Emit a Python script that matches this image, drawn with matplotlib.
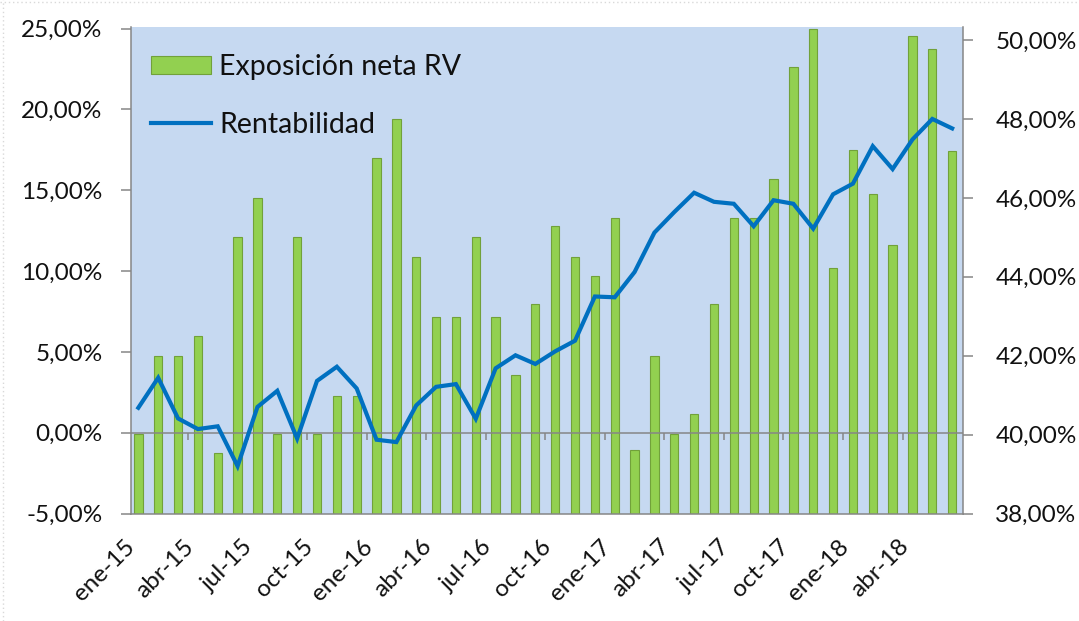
import matplotlib
matplotlib.use("Agg")
import matplotlib.pyplot as plt
from matplotlib.lines import Line2D
from matplotlib.ticker import FuncFormatter

# Months shown on the category axis
months = [
    "ene-15", "feb-15", "mar-15", "abr-15", "may-15", "jun-15",
    "jul-15", "ago-15", "sep-15", "oct-15", "nov-15", "dic-15",
    "ene-16", "feb-16", "mar-16", "abr-16", "may-16", "jun-16",
    "jul-16", "ago-16", "sep-16", "oct-16", "nov-16", "dic-16",
    "ene-17", "feb-17", "mar-17", "abr-17", "may-17", "jun-17",
    "jul-17", "ago-17", "sep-17", "oct-17", "nov-17", "dic-17",
    "ene-18", "feb-18", "mar-18", "abr-18", "may-18", "jun-18",
]

# Exposición neta RV (%), left axis
exposicion = [
    -0.10, 4.75, 4.75, 6.00, -1.25, 12.12,
    14.55, -0.10, 12.12, -0.10, 2.30, 2.30,
    17.00, 19.40, 10.87, 7.17, 7.17, 12.12,
    7.17, 3.60, 7.94, 12.79, 10.87, 9.68,
    13.27, -1.09, 4.75, -0.10, 1.15, 7.94,
    13.27, 13.27, 15.72, 22.60, 25.00, 10.18,
    17.50, 14.74, 11.64, 24.56, 23.77, 17.45,
]

# Rentabilidad (%), right axis
rentabilidad = [
    40.68, 41.44, 40.41, 40.14, 40.21, 39.20,
    40.70, 41.11, 39.90, 41.36, 41.72, 41.17,
    39.87, 39.81, 40.74, 41.21, 41.28, 40.40,
    41.68, 42.01, 41.79, 42.11, 42.38, 43.50,
    43.48, 44.12, 45.12, 45.64, 46.13, 45.90,
    45.85, 45.28, 45.94, 45.85, 45.22, 46.09,
    46.36, 47.31, 46.73, 47.48, 48.00, 47.76,
]

left_ticks = [-5, 0, 5, 10, 15, 20, 25]
right_ticks = [38, 40, 42, 44, 46, 48, 50]

plt.rcParams["font.family"] = ["Lato", "DejaVu Sans"]
plt.rcParams["text.color"] = "#111111"

BG = "#C6D9F1"
GREEN = "#92D050"
GREEN_EDGE = "#71A13A"
BLUE = "#0070C0"
GRAY = "#868686"


def pct(v, _pos):
    return f"{v:.2f}%".replace(".", ",")


fig = plt.figure(figsize=(10.79, 6.21), dpi=100)
ax1 = fig.add_axes([0.1214, 0.1731, 0.7708, 0.7834])
ax2 = ax1.twinx()

x = list(range(len(months)))

ax1.set_facecolor(BG)
ax1.bar(x, [v + 5 for v in exposicion], bottom=-5, width=0.42,
        color=GREEN, edgecolor=GREEN_EDGE, linewidth=0.8, zorder=2,
        label="Exposición neta RV")
ax1.axhline(0, color=GRAY, linewidth=1.1, zorder=3)

# small ticks on the zero line, between quarters
bounds = [i - 0.5 for i in range(3, len(months), 3)]
ax1.vlines(bounds, -0.45, 0, color=GRAY, linewidth=1.1, zorder=3)

ax2.plot(x, rentabilidad, color=BLUE, linewidth=3.0, solid_joinstyle="miter",
         label="Rentabilidad", zorder=4)

ax1.set_xlim(-0.37, 41.53)
ax1.set_ylim(-5, 25.1)
ax2.set_ylim(38, 50.33)

ax1.set_yticks(left_ticks)
ax2.set_yticks(right_ticks)
ax1.yaxis.set_major_formatter(FuncFormatter(pct))
ax2.yaxis.set_major_formatter(FuncFormatter(pct))

ax1.set_xticks(x[::3])
ax1.set_xticklabels(months[::3], rotation=45, ha="right", fontsize=17.5,
                    color="#111111")
ax1.tick_params(axis="x", length=0, pad=16)
ax1.tick_params(axis="y", length=7.5, width=1.1, color=GRAY, pad=13,
                labelsize=17.5, labelcolor="#111111")
ax2.tick_params(axis="y", length=7.5, width=1.1, color=GRAY, pad=16,
                labelsize=17.5, labelcolor="#111111")

for ax in (ax1, ax2):
    ax.spines["top"].set_visible(False)
    for side in ("left", "right", "bottom"):
        ax.spines[side].set_color(GRAY)
        ax.spines[side].set_linewidth(1.1)
ax1.spines["right"].set_visible(False)
ax2.spines["left"].set_visible(False)
ax2.spines["bottom"].set_visible(False)

handles = [ax1.containers[0], ax2.get_lines()[0]]
labels = ["Exposición neta RV", "Rentabilidad"]
ax2.legend(handles, labels, loc="upper left", bbox_to_anchor=(0.0, 0.985),
           frameon=False, fontsize=20.5, handlelength=2.1, handleheight=0.6,
           handletextpad=0.3, labelspacing=1.1, borderpad=0.2)

# faint dotted frame on the top and left edges
fig.add_artist(Line2D([0.003, 0.003], [0, 1], transform=fig.transFigure,
                      color="#d9d9d9", linestyle=(0, (1, 2)), linewidth=1))
fig.add_artist(Line2D([0, 1], [0.996, 0.996], transform=fig.transFigure,
                      color="#d9d9d9", linestyle=(0, (1, 2)), linewidth=1))

fig.savefig("out.png", dpi=100, facecolor="white")
